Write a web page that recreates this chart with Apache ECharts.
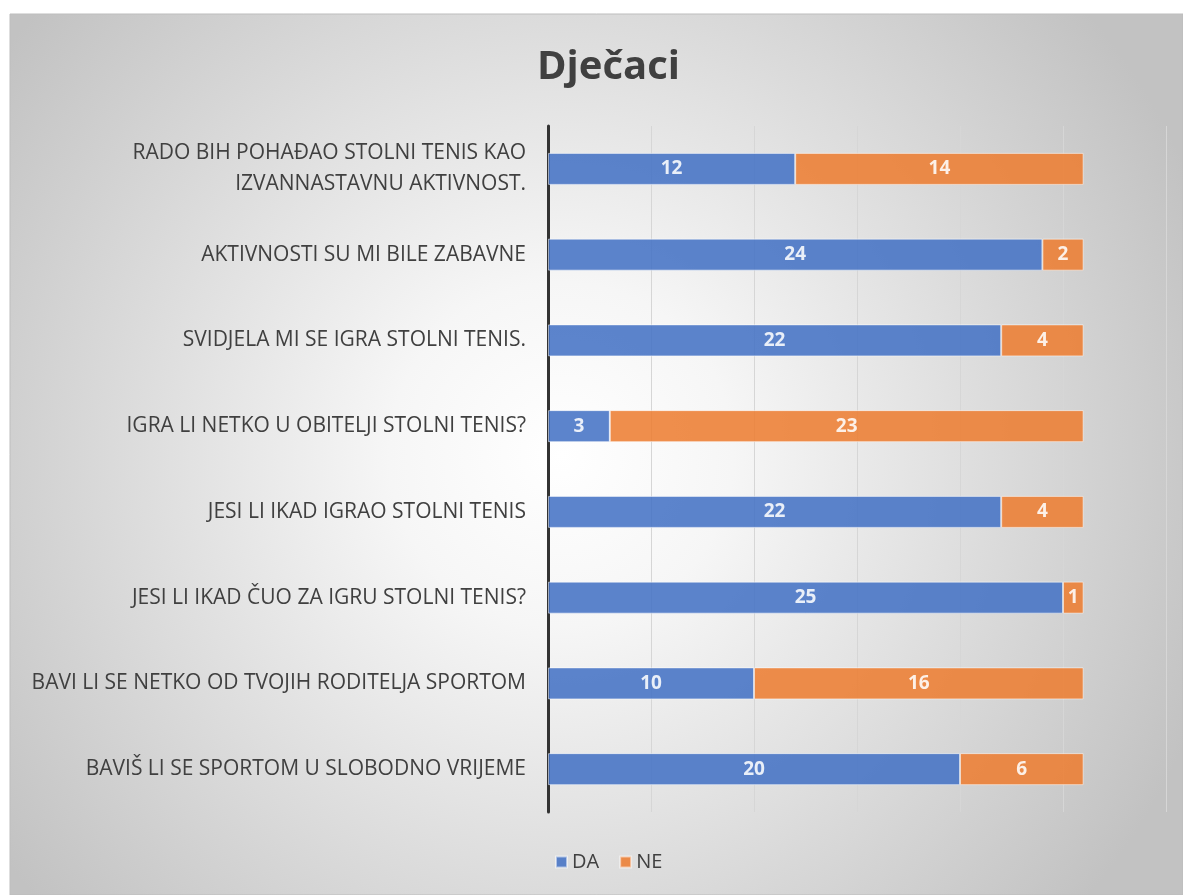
<!DOCTYPE html>
<html>
<head>
<meta charset="utf-8">
<script src="https://cdn.jsdelivr.net/npm/echarts@6/dist/echarts.min.js"></script>
<style>
  html, body { margin: 0; padding: 0; background: #fff; }
  #chart { width: 1183px; height: 895px; }
</style>
</head>
<body>
<div id="chart"></div>
<script>
// pitanja, odozgo prema dolje
const questions = [
  'RADO BIH POHAĐAO STOLNI TENIS KAO\nIZVANNASTAVNU AKTIVNOST.',
  'AKTIVNOSTI SU MI BILE ZABAVNE',
  'SVIDJELA MI SE IGRA STOLNI TENIS.',
  'IGRA LI NETKO U OBITELJI STOLNI TENIS?',
  'JESI LI IKAD IGRAO STOLNI TENIS',
  'JESI LI IKAD ČUO ZA IGRU STOLNI TENIS?',
  'BAVI LI SE NETKO OD TVOJIH RODITELJA SPORTOM',
  'BAVIŠ LI SE SPORTOM U SLOBODNO VRIJEME'
]
const daValues = [12, 24, 22, 3, 22, 25, 10, 20]
const neValues = [14, 2, 4, 23, 4, 1, 16, 6]

const chart = echarts.init(document.getElementById('chart'))
const font = '"Open Sans", "Noto Sans", sans-serif'

function barSeries(name, data, color) {
  return {
    name,
    type: 'bar',
    stack: 'total',
    data,
    barWidth: 32,
    itemStyle: { color, opacity: 0.87, borderColor: 'rgba(255,255,255,0.6)', borderWidth: 1 },
    label: {
      show: true,
      position: 'inside',
      color: '#fff',
      fontFamily: font,
      fontWeight: 'bold',
      fontSize: 19
    }
  }
}

chart.setOption({
  backgroundColor: '#fff',
  animation: false,
  graphic: [{
    type: 'rect',
    z: -10,
    shape: { x: 10, y: 14, width: 1173, height: 881 },
    style: {
      fill: new echarts.graphic.RadialGradient(0.47, 0.5, 0.78, [
        { offset: 0, color: '#ffffff' },
        { offset: 0.25, color: '#f6f6f6' },
        { offset: 1, color: '#c2c2c2' }
      ]),
      stroke: '#bdbdbd',
      lineWidth: 1
    }
  }],
  title: {
    text: 'Dječaci',
    left: 532,
    top: 43,
    textStyle: { fontFamily: font, fontWeight: 'bold', fontSize: 40, color: '#404040' }
  },
  legend: {
    bottom: 18,
    left: 550,
    itemWidth: 11,
    itemHeight: 11,
    itemGap: 20,
    icon: 'rect',
    textStyle: { fontFamily: font, fontSize: 20, color: '#404040' },
    data: ['DA', 'NE']
  },
  grid: { left: 548, right: 17, top: 126, bottom: 83, containLabel: false },
  xAxis: {
    type: 'value',
    min: 0,
    max: 30,
    interval: 5,
    axisLabel: { show: false },
    axisLine: { show: false },
    axisTick: { show: false },
    splitLine: { lineStyle: { color: '#d6d6d6', width: 1 } }
  },
  yAxis: {
    type: 'category',
    inverse: true,
    data: questions,
    axisLine: { lineStyle: { color: '#333', width: 3 } },
    axisTick: { show: false },
    axisLabel: {
      margin: 22,
      fontFamily: font,
      fontSize: 21,
      color: '#404040',
      lineHeight: 31,
      align: 'right'
    }
  },
  series: [
    barSeries('DA', daValues, '#4472C4'),
    barSeries('NE', neValues, '#ED7D31')
  ]
})
</script>
</body>
</html>
